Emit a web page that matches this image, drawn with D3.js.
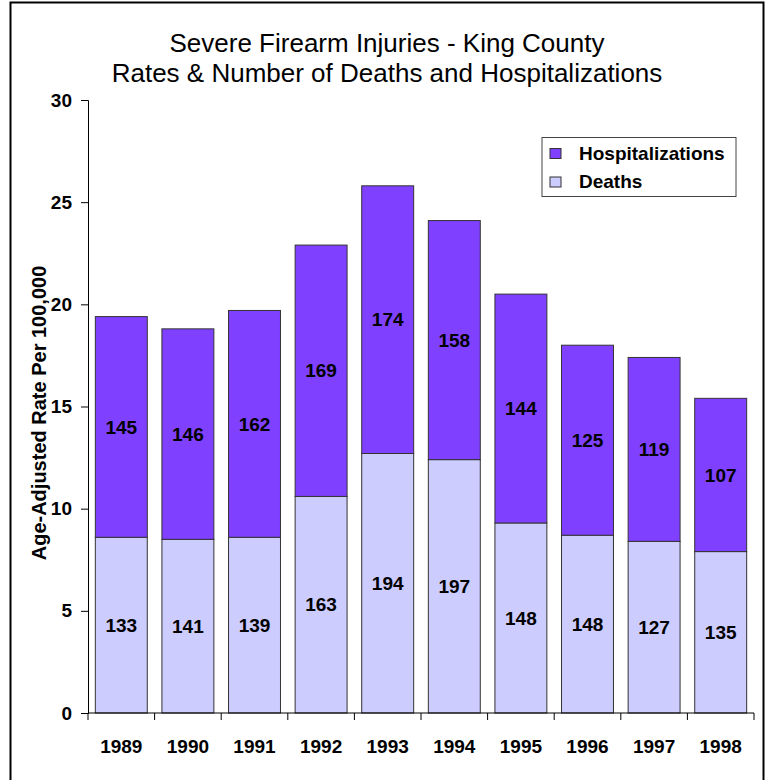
<!DOCTYPE html>
<html>
<head>
<meta charset="utf-8">
<script src="https://cdn.jsdelivr.net/npm/d3@7"></script>
<style>
    body { margin: 0; background: #fff; }
    svg { display: block; font-family: "Liberation Sans", Arial, sans-serif; }
</style>
</head>
<body>
<svg width="766" height="780"></svg>
<script>
// chart data
const years = ["1989", "1990", "1991", "1992", "1993", "1994", "1995", "1996", "1997", "1998"];
const deathRates = [8.6, 8.5, 8.6, 10.6, 12.7, 12.4, 9.3, 8.7, 8.4, 7.9];
const hospRates = [10.8, 10.3, 11.1, 12.3, 13.1, 11.7, 11.2, 9.3, 9.0, 7.5];
const deathCounts = [133, 141, 139, 163, 194, 197, 148, 148, 127, 135];
const hospCounts = [145, 146, 162, 169, 174, 158, 144, 125, 119, 107];
const yTicks = [0, 5, 10, 15, 20, 25, 30];
const seriesNames = ["Hospitalizations", "Deaths"];
const seriesColors = ["#8040ff", "#ccccff"];

const svg = d3.select("svg");
const plot = {left: 88, right: 754, top: 100, bottom: 713};
const labelSize = "19px";

// outer frame
svg.append("rect")
    .attr("x", 10.5).attr("y", 2.5)
    .attr("width", 753).attr("height", 800)
    .attr("fill", "none")
    .attr("stroke", "#000")
    .attr("stroke-width", 2);

// title
const title = svg.append("text")
    .attr("text-anchor", "middle")
    .attr("font-size", "26px")
    .attr("fill", "#000");
title.append("tspan").attr("x", 387).attr("y", 52).text("Severe Firearm Injuries - King County");
title.append("tspan").attr("x", 387).attr("y", 82).text("Rates & Number of Deaths and Hospitalizations");

const x = d3.scaleBand()
    .domain(years)
    .range([plot.left, plot.right])
    .paddingInner(0.22)
    .paddingOuter(0.11);

const y = d3.scaleLinear()
    .domain([0, 30])
    .range([plot.bottom, plot.top]);

// stack the two series
const rows = years.map((yr, i) => ({
    year: yr,
    Deaths: deathRates[i],
    Hospitalizations: hospRates[i],
    deathCount: deathCounts[i],
    hospCount: hospCounts[i]
}));
const stacked = d3.stack().keys(["Deaths", "Hospitalizations"])(rows);
const colorOf = {Hospitalizations: seriesColors[0], Deaths: seriesColors[1]};

const bars = svg.append("g");
stacked.forEach(layer => {
    bars.selectAll(null)
        .data(layer)
        .enter()
        .append("rect")
        .attr("x", d => x(d.data.year))
        .attr("y", d => y(d[1]))
        .attr("width", x.bandwidth())
        .attr("height", d => y(d[0]) - y(d[1]))
        .attr("fill", colorOf[layer.key])
        .attr("stroke", "#333")
        .attr("stroke-width", 1);

    bars.selectAll(null)
        .data(layer)
        .enter()
        .append("text")
        .attr("x", d => x(d.data.year) + x.bandwidth() / 2)
        .attr("y", d => (y(d[0]) + y(d[1])) / 2)
        .attr("dy", "0.35em")
        .attr("text-anchor", "middle")
        .attr("font-size", labelSize)
        .attr("font-weight", "bold")
        .text(d => layer.key === "Deaths" ? d.data.deathCount : d.data.hospCount);
});

// y axis
const yAxis = svg.append("g")
    .attr("transform", `translate(${plot.left},0)`)
    .call(d3.axisLeft(y).tickValues(yTicks).tickSize(7).tickPadding(9));
yAxis.select(".domain").attr("stroke", "#000");
yAxis.selectAll("text")
    .attr("font-size", labelSize)
    .attr("font-weight", "bold")
    .attr("font-family", "Liberation Sans, Arial, sans-serif")
    .attr("fill", "#000");

// x axis, ticks sit between categories
const xAxis = svg.append("g").attr("transform", `translate(0,${plot.bottom})`);
xAxis.append("line")
    .attr("x1", plot.left).attr("x2", plot.right)
    .attr("stroke", "#000");
const step = x.step();
xAxis.selectAll(".tick")
    .data(d3.range(years.length + 1))
    .enter()
    .append("line")
    .attr("x1", i => plot.left + i * step)
    .attr("x2", i => plot.left + i * step)
    .attr("y1", 0).attr("y2", 7)
    .attr("stroke", "#000");
xAxis.selectAll(".year")
    .data(years)
    .enter()
    .append("text")
    .attr("x", d => x(d) + x.bandwidth() / 2)
    .attr("y", 40)
    .attr("text-anchor", "middle")
    .attr("font-size", labelSize)
    .attr("font-weight", "bold")
    .text(d => d);

// y axis label
svg.append("text")
    .attr("transform", `translate(46,413) rotate(-90)`)
    .attr("text-anchor", "middle")
    .attr("font-size", "20px")
    .attr("font-weight", "bold")
    .text("Age-Adjusted Rate Per 100,000");

// legend
const legend = svg.append("g").attr("transform", "translate(542,137.5)");
legend.append("rect")
    .attr("width", 194).attr("height", 59)
    .attr("fill", "#fff")
    .attr("stroke", "#444");
seriesNames.forEach((name, i) => {
    legend.append("rect")
        .attr("x", 8).attr("y", 11 + i * 28.5)
        .attr("width", 11).attr("height", 10)
        .attr("fill", seriesColors[i])
        .attr("stroke", "#333");
    legend.append("text")
        .attr("x", 37).attr("y", 22 + i * 28.5)
        .attr("font-size", labelSize)
        .attr("font-weight", "bold")
        .text(name);
});
</script>
</body>
</html>
